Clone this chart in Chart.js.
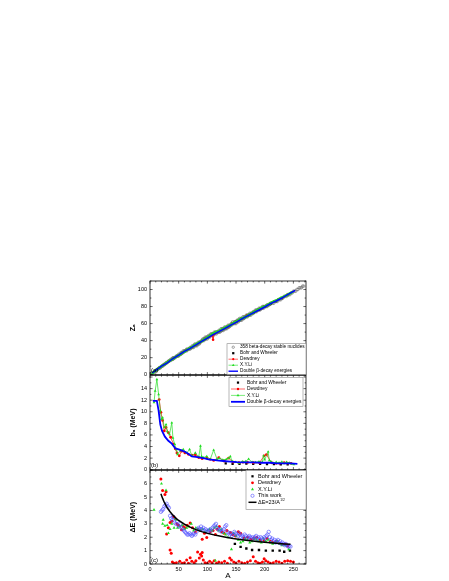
<!DOCTYPE html>
<html>
<head>
<meta charset="utf-8">
<script src="https://cdn.jsdelivr.net/npm/chart.js@4.4.0/dist/chart.umd.min.js"></script>
<style>
  html, body { margin: 0; padding: 0; background: #fff; }
  body { width: 449px; height: 581px; position: relative; overflow: hidden; }
  canvas { position: absolute; }
  #panel-a { left: 125px; top: 270px; }
  #panel-b { left: 125px; top: 369px; }
  #panel-c { left: 125px; top: 464px; }
</style>
</head>
<body>
<canvas id="panel-a" width="190" height="111"></canvas>
<canvas id="panel-b" width="190" height="107"></canvas>
<canvas id="panel-c" width="190" height="117"></canvas>
<script>
/* global Chart */

// tick labels
var xTicks = [0, 50, 100, 150, 200, 250]
var zTicks = [0, 20, 40, 60, 80, 100]
var bTicks = [0, 2, 4, 6, 8, 10, 12, 14]
var dTicks = [0, 1, 2, 3, 4, 5, 6]

// (a) Z vs A, [A, Z]
var stableZ = [[1, 1], [2, 1], [3, 2], [4, 2], [6, 3], [7, 3], [9, 4], [10, 5], [11, 5], [12, 6], [13, 6], [14, 7], [15, 7],
  [16, 8], [17, 8], [18, 8], [19, 9], [20, 10], [21, 10], [22, 10], [23, 11], [24, 12], [25, 12], [26, 12], [27, 13],
  [28, 14], [29, 14], [30, 14], [31, 15], [32, 16], [33, 16], [34, 16], [35, 17], [36, 18], [37, 17], [38, 18], [39, 19],
  [40, 18], [40, 20], [41, 19], [42, 20], [43, 20], [44, 20], [45, 21], [46, 22], [47, 22], [48, 22], [49, 22], [50, 22],
  [50, 24], [51, 23], [52, 24], [53, 24], [54, 24], [54, 26], [55, 25], [56, 26], [57, 26], [58, 26], [58, 28], [59, 27],
  [60, 28], [61, 28], [62, 28], [63, 29], [64, 28], [64, 30], [65, 29], [66, 30], [67, 30], [68, 30], [69, 31], [70, 30],
  [70, 32], [71, 31], [72, 32], [73, 32], [74, 32], [74, 34], [75, 33], [76, 32], [76, 34], [77, 34], [78, 34], [78, 36],
  [79, 35], [80, 34], [80, 36], [81, 35], [82, 34], [82, 36], [83, 36], [84, 36], [84, 38], [85, 37], [86, 36], [86, 38],
  [87, 38], [88, 38], [89, 39], [90, 40], [91, 40], [92, 40], [92, 42], [93, 41], [94, 40], [94, 42], [95, 42], [96, 42],
  [96, 44], [97, 42], [98, 42], [98, 44], [99, 44], [100, 42], [100, 44], [101, 44], [102, 44], [102, 46], [103, 45],
  [104, 44], [104, 46], [105, 46], [106, 46], [106, 48], [107, 47], [108, 46], [108, 48], [109, 47], [110, 46], [110, 48],
  [111, 48], [112, 48], [112, 50], [113, 49], [114, 48], [114, 50], [115, 50], [116, 48], [116, 50], [117, 50], [118, 50],
  [119, 50], [120, 50], [120, 52], [121, 51], [122, 50], [122, 52], [123, 51], [124, 52], [124, 54], [125, 52], [126, 52],
  [126, 54], [127, 53], [128, 52], [128, 54], [129, 54], [130, 54], [130, 56], [131, 54], [132, 54], [132, 56], [133, 55],
  [134, 54], [134, 56], [135, 56], [136, 56], [136, 58], [137, 56], [138, 56], [138, 58], [139, 57], [140, 58], [141, 59],
  [142, 58], [142, 60], [143, 60], [144, 60], [144, 62], [145, 60], [146, 60], [147, 62], [148, 60], [148, 62], [149, 62],
  [150, 60], [150, 62], [151, 63], [152, 62], [152, 64], [153, 63], [154, 62], [154, 64], [155, 64], [156, 64], [156, 66],
  [157, 64], [158, 64], [158, 66], [159, 65], [160, 64], [160, 66], [161, 66], [162, 66], [162, 68], [163, 66], [164, 66],
  [164, 68], [165, 67], [166, 68], [167, 68], [168, 68], [168, 70], [169, 69], [170, 68], [170, 70], [171, 70], [172, 70],
  [173, 70], [174, 70], [174, 72], [175, 71], [176, 70], [176, 72], [177, 72], [178, 72], [179, 72], [180, 72], [180, 74],
  [181, 73], [182, 74], [183, 74], [184, 74], [184, 76], [185, 75], [186, 74], [186, 76], [187, 76], [188, 76], [189, 76],
  [190, 76], [190, 78], [191, 77], [192, 76], [192, 78], [193, 77], [194, 78], [195, 78], [196, 78], [196, 80], [197, 79],
  [198, 78], [198, 80], [199, 80], [200, 80], [201, 80], [202, 80], [203, 81], [204, 80], [204, 82], [205, 81], [206, 82],
  [207, 82], [208, 82], [209, 83], [210, 84], [212, 84], [214, 84], [216, 84], [218, 86], [220, 86], [222, 86], [224, 88],
  [226, 88], [228, 88], [230, 90], [232, 90], [234, 92], [236, 92], [238, 92], [240, 94], [242, 94], [244, 94], [246, 96],
  [248, 96], [250, 98], [252, 98], [254, 98], [256, 100], [258, 100], [260, 102], [262, 102], [264, 102], [266, 104], [268, 104]]
var bohrZ = [[150, 62], [160, 65.5], [170, 69], [180, 72.5], [190, 76], [200, 79.5], [210, 83], [220, 86.5], [230, 90], [240, 93.5]]
var dewdneyZ = [[16, 8], [24, 11.5], [32, 15.5], [40, 18.5], [48, 22], [56, 25.5], [64, 29], [72, 32], [80, 35.5], [88, 38.5],
  [96, 42], [104, 45], [108, 46.5], [110, 41], [112, 48], [120, 51], [128, 54], [136, 57], [144, 60], [152, 63], [160, 66],
  [168, 69], [176, 71.5], [184, 74.5], [192, 77.5], [200, 80], [208, 83], [216, 86], [224, 88.5], [232, 91], [240, 94]]
var xyliZ = [[4, 1.5], [8, 4], [12, 6], [16, 8], [20, 10], [24, 11.5], [28, 13.5], [32, 15.5], [36, 17], [40, 18.5], [44, 20.5],
  [48, 22], [52, 23.5], [56, 25.5], [60, 27], [64, 29], [68, 30.5], [72, 32], [76, 33.5], [80, 35.5], [84, 37], [88, 38.5],
  [92, 40], [96, 42], [100, 43.5], [104, 45.5], [108, 47.5], [112, 49], [116, 50], [120, 51], [124, 52.5], [128, 54],
  [132, 55.5], [136, 57], [140, 58], [144, 60], [148, 61.5], [152, 63], [156, 64.5], [160, 66], [164, 67], [168, 68.5],
  [172, 70], [176, 71.5], [180, 73], [184, 74.5], [188, 76], [192, 77.5], [196, 79], [200, 80], [204, 81.5], [208, 83],
  [212, 84.5], [216, 86], [220, 87], [224, 88.5], [228, 90], [232, 91], [236, 92.5], [240, 94], [244, 95.5], [248, 97]]
var dbetaZ = [[4, 2], [10, 5], [20, 10], [30, 14], [40, 19], [50, 23], [60, 27.5], [70, 31], [80, 35], [90, 39], [100, 43],
  [110, 47], [120, 50.5], [130, 54], [140, 58], [150, 61.5], [160, 65.5], [170, 69], [180, 72.5], [190, 76], [200, 79.5],
  [210, 83.5], [220, 86.5], [230, 90], [240, 94], [253, 99]]

// (b) b_a (MeV) vs A
var bohrB = [[132, 1.1], [144, 1.0], [156, 1.0], [168, 1.05], [180, 1.0], [192, 1.0], [204, 0.95], [216, 0.95], [228, 0.9], [240, 0.9]]
var dewdneyB = [[16, 12.1], [19, 9.9], [22, 8.5], [25, 6.7], [28, 7.3], [32, 6.4], [36, 5.6], [41, 4.4], [44, 3.6], [47, 2.9],
  [51, 2.4], [55, 3.2], [61, 2.9], [67, 2.65], [73, 2.5], [79, 2.6], [85, 2.1], [91, 1.9], [99, 2.0], [105, 1.8], [111, 1.6],
  [120, 2.1], [129, 1.5], [137, 2.0], [145, 1.3], [155, 1.2], [162, 1.3], [170, 1.26], [180, 1.2], [191, 1.2], [199, 2.4],
  [203, 2.6], [212, 1.2], [220, 1.1], [226, 1.1], [234, 1.2], [240, 1.15], [246, 1.1]]
var xyliB = [[7, 11.6], [9, 13.6], [12, 15.6], [15, 13.0], [18, 10.2], [20, 8.7], [22, 9.0], [25, 7.3], [28, 7.8], [30, 6.6],
  [34, 6.1], [38, 8.1], [40, 5.5], [43, 4.4], [46, 3.5], [48, 2.65], [53, 3.3], [58, 3.5], [64, 2.9], [69, 3.5], [73, 2.4],
  [79, 2.9], [85, 2.2], [88, 4.1], [90, 2.3], [93, 2.1], [99, 2.3], [105, 1.8], [111, 3.4], [117, 1.8], [121, 2.0], [127, 1.7],
  [133, 1.8], [137, 2.0], [140, 2.3], [143, 1.5], [149, 1.3], [155, 1.15], [161, 1.4], [167, 1.44], [172, 1.85], [178, 1.3],
  [184, 1.26], [190, 1.4], [196, 1.3], [198, 2.4], [200, 1.73], [206, 3.1], [208, 1.6], [211, 1.4], [216, 1.15], [220, 1.3],
  [225, 1.2], [230, 1.35], [234, 1.1], [238, 1.3], [243, 1.2], [247, 1.0], [251, 0.9]]
var dbetaB = [[5, 11.9], [12, 11.9], [15, 10.2], [18, 7.8], [21, 6.7], [26, 5.7], [32, 5.0], [38, 4.5], [44, 3.7], [50, 3.5],
  [56, 3.3], [61, 3.1], [66, 2.8], [73, 2.3], [80, 2.2], [88, 2.1], [95, 1.95], [102, 1.8], [110, 1.7], [117, 1.6], [128, 1.5],
  [140, 1.4], [152, 1.3], [165, 1.25], [180, 1.25], [195, 1.2], [210, 1.2], [220, 1.1], [232, 1.1], [245, 1.1], [257, 1.0]]

// (c) delta E (MeV) vs A
var bohrC = [[148, 1.5], [158, 1.28], [168, 1.16], [178, 1.05], [190, 1.05], [202, 1.0], [214, 1.0], [226, 1.0], [234, 0.92], [244, 1.0]]
var dewdneyC = [[19, 6.35], [22, 5.5], [26, 5.2], [28, 5.4], [29, 2.25], [32, 2.7], [35, 3.1], [38, 3.2], [41, 3.55], [44, 3.4],
  [47, 3.0], [50, 2.9], [55, 2.55], [58, 2.8], [61, 2.7], [65, 2.9], [70, 3.06], [74, 2.7], [79, 2.4], [84, 2.6], [88, 2.5],
  [91, 1.85], [95, 2.3], [99, 1.98], [105, 2.4], [110, 2.5], [114, 2.2], [117, 2.6], [121, 2.8], [125, 2.4], [129, 2.3],
  [134, 2.5], [140, 2.35], [144, 2.2], [149, 2.1], [154, 2.4], [158, 2.3], [164, 1.95], [170, 2.0], [176, 1.85], [181, 1.9],
  [186, 2.0], [192, 1.8], [199, 1.75], [204, 1.9], [210, 1.7], [214, 1.6], [220, 1.7], [226, 1.55], [231, 1.46], [236, 1.5],
  [240, 1.35],
  [35, 1.04], [37, 0.8], [39, 0.15], [42, 0.05], [46, 0.1], [52, 0.2], [56, 0.05], [60, 0.1], [64, 0.3], [67, 0.05], [70, 0.47],
  [73, 0.2], [77, 0.1], [80, 0.25], [83, 0.9], [86, 0.45], [88, 0.72], [90, 0.6], [91, 0.85], [93, 0.3], [96, 0.1], [100, 0.05],
  [104, 0.2], [108, 0.1], [112, 0.25], [116, 0.05], [120, 0.15], [125, 0.1], [130, 0.2], [135, 0.05], [139, 0.45], [142, 0.3],
  [146, 0.15], [150, 0.05], [155, 0.2], [160, 0.1], [165, 0.05], [170, 0.15], [175, 0.25], [180, 0.54], [184, 0.2], [188, 0.1],
  [192, 0.05], [196, 0.15], [199, 0.4], [202, 0.25], [206, 0.15], [210, 0.05], [215, 0.1], [220, 0.2], [225, 0.15], [230, 0.05],
  [235, 0.2], [240, 0.25], [245, 0.2], [250, 0.15]]
var xyliC = [[7, 4.05], [20, 6.0], [22, 3.0], [23, 3.3], [26, 2.85], [28, 5.5], [30, 2.9], [32, 2.3], [35, 2.6], [38, 3.0],
  [42, 2.7], [44, 3.4], [46, 3.3], [48, 2.7], [52, 2.8], [56, 2.9], [60, 2.6], [64, 2.7], [68, 2.8], [72, 3.0], [76, 2.5],
  [80, 2.7], [84, 2.6], [88, 2.5], [92, 2.6], [96, 2.4], [100, 2.5], [104, 2.6], [108, 2.5], [112, 2.7], [114, 0.25], [116, 2.8],
  [120, 2.5], [124, 2.6], [128, 2.3], [132, 2.2], [136, 2.0], [142, 1.1], [146, 2.3], [150, 2.1], [154, 1.8], [158, 1.6],
  [162, 1.7], [166, 1.9], [170, 1.8], [174, 1.6], [178, 1.7], [182, 1.9], [186, 1.8], [190, 1.7], [194, 1.6], [198, 1.9],
  [202, 1.7], [206, 1.8], [210, 1.6], [214, 1.5], [218, 1.6], [222, 1.7], [226, 1.5], [230, 1.4], [236, 1.4], [242, 1.1]]
var thisWorkC = [[19, 3.9], [21, 4.0], [23, 4.1], [25, 4.3], [27, 4.4], [29, 4.5], [31, 4.3], [33, 4.2], [35, 3.6], [37, 3.4],
  [39, 3.3], [41, 3.5], [43, 3.1], [45, 3.0], [47, 3.2], [49, 2.9], [51, 2.8], [53, 3.0], [55, 2.7], [57, 2.6], [59, 2.5],
  [61, 2.4], [63, 2.3], [65, 2.2], [67, 2.2], [69, 2.3], [71, 2.2], [73, 2.1], [75, 2.2], [77, 2.3], [79, 2.2], [81, 2.4],
  [83, 2.6], [85, 2.7], [87, 2.6], [89, 2.8], [91, 2.6], [93, 2.7], [95, 2.5], [97, 2.6], [99, 2.5], [101, 2.4], [103, 2.5],
  [105, 2.6], [107, 2.5], [109, 2.7], [111, 2.8], [113, 2.9], [115, 3.0], [117, 2.7], [119, 2.6], [121, 2.5], [123, 2.6],
  [125, 2.4], [127, 2.5], [129, 2.6], [131, 2.8], [133, 2.9], [135, 2.4], [137, 2.3], [139, 2.2], [141, 2.3], [143, 2.1],
  [145, 2.2], [147, 2.4], [149, 2.3], [151, 2.2], [153, 2.1], [155, 2.3], [157, 2.2], [159, 2.0], [161, 2.1], [163, 2.0],
  [165, 2.2], [167, 2.1], [169, 1.9], [171, 2.0], [173, 2.1], [175, 2.0], [177, 1.9], [179, 2.0], [181, 1.9], [183, 2.0],
  [185, 2.1], [187, 1.9], [189, 2.0], [191, 1.8], [193, 2.0], [195, 1.9], [197, 1.8], [199, 2.0], [201, 1.9], [203, 2.1],
  [205, 2.2], [207, 2.4], [209, 2.0], [211, 1.8], [213, 1.9], [215, 1.7], [217, 1.8], [219, 1.6], [221, 1.7], [223, 1.8],
  [225, 1.6], [227, 1.7], [229, 1.5], [231, 1.6], [233, 1.5], [235, 1.4], [237, 1.5], [239, 1.4], [241, 1.3], [243, 1.35], [245, 1.3]]
var fitC = [[19, 5.25], [22, 4.9], [25, 4.6], [30, 4.2], [35, 3.9], [40, 3.65], [45, 3.43], [50, 3.25], [60, 2.97], [70, 2.75],
  [80, 2.57], [90, 2.42], [100, 2.3], [115, 2.14], [130, 2.02], [145, 1.91], [160, 1.82], [175, 1.74], [190, 1.67],
  [205, 1.61], [220, 1.55], [235, 1.5], [245, 1.47]]

var FONT = '"Liberation Sans", Arial, sans-serif'
var RED = '#ff0000'
var GREEN = '#22dd22'
var BLUE = '#0000ff'
var VIOLET = '#4d4dff'

function pts (arr) {
  return arr.map(p => ({ x: p[0], y: p[1] }))
}

function drawMark (ctx, kind, x, y, r, color, open) {
  ctx.beginPath()
  if (kind === 'circle') ctx.arc(x, y, r, 0, Math.PI * 2)
  else if (kind === 'rect') ctx.rect(x - r * 0.7, y - r * 0.7, r * 1.4, r * 1.4)
  else if (kind === 'triangle') {
    ctx.moveTo(x, y - r)
    ctx.lineTo(x + r * 0.87, y + r * 0.5)
    ctx.lineTo(x - r * 0.87, y + r * 0.5)
    ctx.closePath()
  }
  if (open) {
    ctx.strokeStyle = color
    ctx.lineWidth = 0.6
    ctx.stroke()
  } else {
    ctx.fillStyle = color
    ctx.fill()
  }
}

// frame with inward major/minor ticks on all sides, plus the (a)/(b)/(c) tag
var frameTicks = {
  id: 'frameTicks',
  afterDatasetsDraw (chart, args, o) {
    var ctx = chart.ctx
    var a = chart.chartArea
    var x = chart.scales.x
    var y = chart.scales.y
    ctx.save()
    ctx.strokeStyle = '#000'
    ctx.lineWidth = 0.8
    ctx.strokeRect(a.left, a.top, a.right - a.left, a.bottom - a.top)
    ctx.lineWidth = 0.6
    ctx.beginPath()
    var n = Math.floor((x.max - x.min) / o.xStep + 1e-6)
    for (var i = 0; i <= n; i++) {
      var v = x.min + i * o.xStep
      var len = Math.abs(v / o.xMajor - Math.round(v / o.xMajor)) < 1e-6 ? 2.6 : 1.4
      var p = x.getPixelForValue(v)
      ctx.moveTo(p, a.bottom); ctx.lineTo(p, a.bottom - len)
      ctx.moveTo(p, a.top); ctx.lineTo(p, a.top + len)
    }
    n = Math.floor((y.max - y.min) / o.yStep + 1e-6)
    for (var j = 0; j <= n; j++) {
      var w = y.min + j * o.yStep
      var l2 = Math.abs(w / o.yMajor - Math.round(w / o.yMajor)) < 1e-6 ? 2.6 : 1.4
      var q = y.getPixelForValue(w)
      ctx.moveTo(a.left, q); ctx.lineTo(a.left + l2, q)
      ctx.moveTo(a.right, q); ctx.lineTo(a.right - l2, q)
    }
    ctx.stroke()
    ctx.fillStyle = '#000'
    ctx.font = '6px ' + FONT
    ctx.textBaseline = 'alphabetic'
    ctx.fillText(o.tag, a.left + 1, a.bottom - 2.5)
    ctx.restore()
  }
}

// boxed legend inside the plot area
var boxLegend = {
  id: 'boxLegend',
  afterDraw (chart, args, o) {
    if (!o || !o.items) return
    var ctx = chart.ctx
    var a = chart.chartArea
    var right = a.right - o.dx
    var left = right - o.w
    var top = o.anchor === 'top' ? a.top + o.dy : a.bottom - o.dy - o.h
    ctx.save()
    ctx.fillStyle = '#fff'
    ctx.fillRect(left, top, o.w, o.h)
    ctx.strokeStyle = '#888'
    ctx.lineWidth = 0.6
    ctx.strokeRect(left, top, o.w, o.h)
    ctx.textBaseline = 'middle'
    o.items.forEach(function (it, i) {
      var cy = top + o.row0 + i * o.step
      var x0 = left + o.sym0
      var x1 = left + o.sym1
      if (it.line) {
        ctx.beginPath()
        ctx.strokeStyle = it.color
        ctx.lineWidth = it.line
        ctx.moveTo(x0, cy)
        ctx.lineTo(x1, cy)
        ctx.stroke()
      }
      if (it.marker) drawMark(ctx, it.marker, (x0 + x1) / 2, cy, it.r, it.color, it.open)
      ctx.fillStyle = '#000'
      ctx.font = o.font + 'px ' + FONT
      ctx.fillText(it.label, left + o.tx, cy)
      if (it.sup) {
        var wd = ctx.measureText(it.label).width
        ctx.font = (o.font * 0.6) + 'px ' + FONT
        ctx.fillText(it.sup, left + o.tx + wd + 0.3, cy - 1.8)
      }
    })
    ctx.restore()
  }
}

function panel (id, p) {
  var tickFont = { family: FONT, size: 5.5 }
  return new Chart(document.getElementById(id), {
    type: 'scatter',
    data: { datasets: p.datasets },
    plugins: [frameTicks, boxLegend],
    options: {
      responsive: false,
      animation: false,
      events: [],
      layout: { padding: p.padding },
      plugins: {
        legend: { display: false },
        tooltip: { enabled: false },
        frameTicks: p.frame,
        boxLegend: p.legend
      },
      scales: {
        x: {
          type: 'linear',
          min: 0,
          max: 272,
          display: p.showX,
          grid: { display: false, drawTicks: false },
          border: { display: false },
          afterBuildTicks: s => { s.ticks = xTicks.map(v => ({ value: v })) },
          afterFit: s => { if (p.showX) s.height = 17 },
          ticks: { font: tickFont, color: '#000', padding: 2, maxRotation: 0, autoSkip: false },
          title: { display: true, text: 'A', color: '#000', font: { family: FONT, size: 8 }, padding: 0 }
        },
        y: {
          type: 'linear',
          min: 0,
          max: p.yMax,
          grid: { display: false, drawTicks: false },
          border: { display: false },
          afterBuildTicks: s => { s.ticks = p.yTicks.map(v => ({ value: v })) },
          afterFit: s => { s.width = 25 },
          ticks: { font: tickFont, color: '#000', padding: 3, autoSkip: false },
          title: { display: true, text: p.yTitle, color: '#000', font: { family: FONT, size: 7, weight: 'bold' }, padding: { top: 4, bottom: 0 } }
        }
      }
    }
  })
}

function markers (data, style, r, color, open) {
  return {
    data: pts(data),
    showLine: false,
    pointStyle: style,
    pointRadius: r,
    pointBackgroundColor: open ? 'rgba(0,0,0,0)' : color,
    pointBorderColor: color,
    pointBorderWidth: open ? 0.6 : 0
  }
}

function line (data, color, width, style, r) {
  return {
    data: pts(data),
    showLine: true,
    borderColor: color,
    borderWidth: width,
    pointStyle: style || 'circle',
    pointRadius: r || 0,
    pointBackgroundColor: color,
    pointBorderWidth: 0
  }
}

panel('panel-a', {
  showX: false,
  padding: { top: 11, right: 9, bottom: 6, left: 0 },
  yMax: 110,
  yTicks: zTicks,
  yTitle: 'Zₐ',
  frame: { xStep: 10, xMajor: 50, yStep: 10, yMajor: 20, tag: '(a)' },
  legend: {
    anchor: 'bottom', dx: 0, dy: 0, w: 79, h: 31, font: 4.7, row0: 3.5, step: 6, sym0: 1.5, sym1: 11, tx: 13,
    items: [
      { label: '358 beta-decay stable nuclides', color: '#666', marker: 'circle', r: 1.2, open: true },
      { label: 'Bohr and Wheeler', color: '#000', marker: 'rect', r: 1.6 },
      { label: 'Dewdney', color: RED, marker: 'circle', r: 1.1, line: 0.6 },
      { label: 'X.Y.Li', color: GREEN, marker: 'triangle', r: 1.5, line: 0.6 },
      { label: 'Double β-decay energies', color: BLUE, line: 1.4 }
    ]
  },
  datasets: [
    line(dbetaZ, BLUE, 1.5),
    line(xyliZ, GREEN, 2.6, 'triangle', 1.5),
    line(dewdneyZ, RED, 0.8, 'circle', 1.3),
    markers(bohrZ, 'rect', 1.6, '#000'),
    markers(stableZ, 'circle', 1.3, '#666', true)
  ]
})

panel('panel-b', {
  showX: false,
  padding: { top: 6, right: 9, bottom: 6, left: 0 },
  yMax: 16.3,
  yTicks: bTicks,
  yTitle: 'bₐ (MeV)',
  frame: { xStep: 10, xMajor: 50, yStep: 1, yMajor: 2, tag: '(b)' },
  legend: {
    anchor: 'top', dx: 3, dy: 2, w: 74, h: 29, font: 4.9, row0: 5.3, step: 6.4, sym0: 2, sym1: 16, tx: 18,
    items: [
      { label: 'Bohr and Wheeler', color: '#000', marker: 'rect', r: 1.6 },
      { label: 'Dewdney', color: RED, marker: 'circle', r: 1.2, line: 0.6 },
      { label: 'X.Y.Li', color: GREEN, marker: 'triangle', r: 1.6, line: 0.6 },
      { label: 'Double β-decay energies', color: BLUE, line: 1.8 }
    ]
  },
  datasets: [
    line(dbetaB, BLUE, 1.8),
    line(xyliB, GREEN, 0.7, 'triangle', 1.6),
    line(dewdneyB, RED, 0.7, 'circle', 1.4),
    markers(bohrB, 'rect', 1.6, '#000')
  ]
})

panel('panel-c', {
  showX: true,
  padding: { top: 6, right: 9, bottom: 0, left: 0 },
  yMax: 7,
  yTicks: dTicks,
  yTitle: 'ΔE (MeV)',
  frame: { xStep: 10, xMajor: 50, yStep: 0.5, yMajor: 1, tag: '(c)' },
  legend: {
    anchor: 'top', dx: 0, dy: 0, w: 60, h: 39, font: 5.5, row0: 6, step: 6.5, sym0: 2.5, sym1: 10.5, tx: 12,
    items: [
      { label: 'Bohr and Wheeler', color: '#000', marker: 'rect', r: 1.6 },
      { label: 'Dewdney', color: RED, marker: 'circle', r: 1.4 },
      { label: 'X.Y.Li', color: GREEN, marker: 'triangle', r: 1.7 },
      { label: 'This work', color: VIOLET, marker: 'circle', r: 1.6, open: true },
      { label: 'ΔE=23/A', sup: '1/2', color: '#000', line: 1.5 }
    ]
  },
  datasets: [
    line(fitC, '#000', 1.5),
    markers(thisWorkC, 'circle', 1.7, VIOLET, true),
    markers(xyliC, 'triangle', 1.8, GREEN),
    markers(dewdneyC, 'circle', 1.5, RED),
    markers(bohrC, 'rect', 1.7, '#000')
  ]
})
</script>
</body>
</html>
